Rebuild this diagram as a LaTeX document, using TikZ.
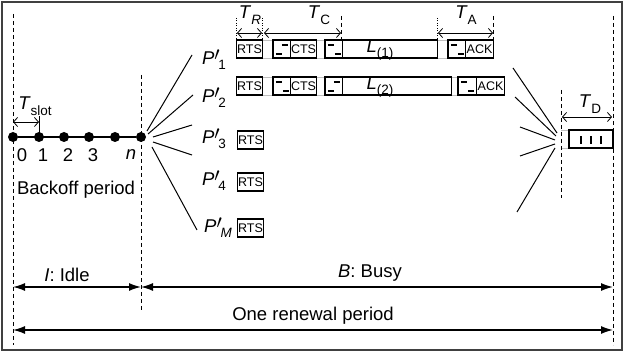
\documentclass[tikz,border=0pt]{standalone}
\usepackage{fontspec}
\setmainfont{Liberation Sans}
\usetikzlibrary{arrows.meta,positioning,calc}

\newcommand{\lowsub}[1]{\raisebox{-0.3em}{\fontsize{13.5}{14}\selectfont #1}}
\newcommand{\bigprime}{\raisebox{-6pt}{\scalebox{1.6}{$'$}}\kern-2pt}

\begin{document}
\begin{tikzpicture}[x=1pt, y=-1pt,
        lbl/.style ={font=\fontsize{18.5}{21}\selectfont, inner sep=1pt},
        pkt/.style ={draw, fill=white, line width=1.1pt, inner sep=0pt, minimum height=18pt,
                     font=\fontsize{12.5}{13}\selectfont},
        gapA/.style ={pkt, line width=1.6pt, minimum width=18pt,
                     path picture={\draw[line width=1.4pt]
                        ([shift={(3,-4)}]path picture bounding box.south west) -- ++(6,0)
                        ([shift={(9,5)}]path picture bounding box.north west) -- ++(6,0);}},
        gapB/.style ={pkt, line width=1.6pt, minimum width=18pt,
                     path picture={\draw[line width=1.4pt]
                        ([shift={(3,5)}]path picture bounding box.north west) -- ++(6,0)
                        ([shift={(10,-4)}]path picture bounding box.south west) -- ++(6,0);}},
        dot/.style ={circle, fill, inner sep=0pt, minimum size=10pt},
        vline/.style ={line width=0.8pt, dash pattern=on 4pt off 3pt},
        vdot/.style ={line width=0.8pt, dash pattern=on 1pt off 1.5pt},
        strip/.style ={draw=black!25, line width=0.8pt},
        dim/.style ={{Straight Barb[length=4pt,width=9pt]}-{Straight Barb[length=4pt,width=9pt]},
                     line width=0.8pt},
        span/.style ={{Latex[length=12pt,width=8pt]}-{Latex[length=12pt,width=8pt]},
                     line width=1.4pt},
        fan/.style ={line width=1pt}]

    \useasboundingbox (0,0) rectangle (624,352);
    \draw[line width=1.2pt, black!75] (2,2) rectangle (622,350);

    %--- Period borders ---
    \draw[vline] (13,14) -- (13,345);
    \draw[vline] (141,75) -- (141,310);
    \draw[vline] (613,16) -- (613,345);

    %--- Backoff slots ---
    \node[dot] (s0) at (13,137) {};
    \node[dot] (s1) at (39,137) {};
    \node[dot] (s2) at (64,137) {};
    \node[dot] (s3) at (89,137) {};
    \node[dot] (s4) at (115,137) {};
    \node[dot] (sn) at (141,137) {};
    \draw[line width=1.4pt] (s0) -- (sn);

    \node[lbl] (n0) at (22,155) {0};
    \node[lbl] (n1) at (43,155) {1};
    \node[lbl] (n2) at (68,155) {2};
    \node[lbl] (n3) at (93,155) {3};
    \node[lbl] (nn) at (131,155) {\textit{n}};
    \node[lbl] (backoff) at (76,190) {Backoff period};

    \coordinate (slotL) at (13,122);
    \coordinate (slotR) at (39,122);
    \draw[line width=0.8pt] (s1.center) -- (39,116);
    \draw[dim] (slotL) -- (slotR);
    \node[lbl] (tslot) at (35,106) {\textit{T}\lowsub{slot}};

    %--- Stations ---
    \node[lbl] (p1) at (214,60)  {\textit{P}\bigprime\lowsub{1}};
    \node[lbl] (p2) at (214,98)  {\textit{P}\bigprime\lowsub{2}};
    \node[lbl] (p3) at (214,139) {\textit{P}\bigprime\lowsub{3}};
    \node[lbl] (p4) at (214,181) {\textit{P}\bigprime\lowsub{4}};
    \node[lbl] (pM) at (218,228) {\textit{P}\bigprime\lowsub{\textit{M}}};

    \coordinate (f1) at (192,55);
    \coordinate (f2) at (193,95);
    \coordinate (f3) at (192,125);
    \coordinate (f4) at (192,155);
    \coordinate (f5) at (197,230);
    \draw[fan] (147,131) -- (f1);
    \draw[fan] (148,134) -- (f2);
    \draw[fan] (153,137) -- (f3);
    \draw[fan] (153,142) -- (f4);
    \draw[fan] (152,147) -- (f5);

    %--- Channel strips ---
    \draw[strip] (236,40) -- (494,40) (236,58) -- (494,58);
    \draw[strip] (236,77) -- (505,77) (236,95) -- (505,95);
    \draw[strip] (561,130) -- (568,130) (561,148) -- (568,148);

    %--- Row 1 ---
    \node[pkt, anchor=west, minimum width=26pt] (rts1) at (236,49) {RTS};
    \node[gapA, anchor=west] (g1a) at (272,49) {};
    \node[pkt, anchor=west, minimum width=26pt] (cts1) at (290,49) {CTS};
    \node[gapB, anchor=west] (g1b) at (324,49) {};
    \node[pkt, anchor=west, minimum width=95pt] (l1) at (342,49) {};
    \node[gapB, anchor=west] (g1c) at (447,49) {};
    \node[pkt, anchor=west, minimum width=28pt] (ack1) at (465,49) {ACK};
    \node[lbl] (lab1) at (380,50) {\textit{L}\lowsub{(1)}};

    %--- Row 2 ---
    \node[pkt, anchor=west, minimum width=26pt] (rts2) at (236,86) {RTS};
    \node[gapB, anchor=west] (g2a) at (272,86) {};
    \node[pkt, anchor=west, minimum width=26pt] (cts2) at (290,86) {CTS};
    \node[gapA, anchor=west] (g2b) at (324,86) {};
    \node[pkt, anchor=west, minimum width=109pt] (l2) at (342,86) {};
    \node[gapB, anchor=west, minimum width=19pt] (g2c) at (457,86) {};
    \node[pkt, anchor=west, minimum width=28pt] (ack2) at (476,86) {ACK};
    \node[lbl] (lab2) at (380,87) {\textit{L}\lowsub{(2)}};

    %--- Collided stations ---
    \node[pkt, anchor=west, minimum width=26pt] (rts3) at (237,140) {RTS};
    \node[pkt, anchor=west, minimum width=26pt] (rts4) at (237,182) {RTS};
    \node[pkt, anchor=west, minimum width=26pt] (rtsM) at (237,228) {RTS};

    %--- Time markers ---
    \draw[vdot] (236,18) -- (236,40);
    \draw[vdot] (262,18) -- (262,40);
    \draw[vline] (341,16) -- (341,40);
    \draw[vdot] (437,18) -- (437,40);
    \draw[vline] (493,16) -- (493,40);

    \coordinate (tr1) at (237,33);
    \coordinate (tr2) at (262,33);
    \coordinate (tc1) at (264,33);
    \coordinate (tc2) at (341,33);
    \coordinate (ta1) at (438,33);
    \coordinate (ta2) at (493,33);
    \draw[dim] (tr1) -- (tr2);
    \draw[dim] (tc1) -- (tc2);
    \draw[dim] (ta1) -- (ta2);
    \node[lbl] (trl) at (250,15) {\textit{T}\lowsub{\textit{R}}};
    \node[lbl] (tcl) at (319,15) {\textit{T}\lowsub{C}};
    \node[lbl] (tal) at (466,15) {\textit{T}\lowsub{A}};

    %--- Right fan and T_D ---
    \coordinate (r1) at (513,68);
    \coordinate (r2) at (515,97);
    \coordinate (r3) at (520,127);
    \coordinate (r4) at (520,156);
    \coordinate (r5) at (517,212);
    \draw[fan] (r1) -- (557,133);
    \draw[fan] (r2) -- (556,136);
    \draw[fan] (r3) -- (555,140);
    \draw[fan] (r4) -- (555,144);
    \draw[fan] (r5) -- (555,148);

    \draw[vline] (561,90) -- (561,198);
    \node[pkt, anchor=west, line width=2pt, minimum width=44pt,
          path picture={\foreach \t in {0.27,0.5,0.73}
             \draw[line width=1.6pt] ([shift={(0,-4)}]$(path picture bounding box.south west)!\t!(path picture bounding box.south east)$) -- ++(0,-8);}]
          (tdbox) at (568,139) {};
    \coordinate (td1) at (562,117);
    \coordinate (td2) at (612,117);
    \draw[dim] (td1) -- (td2);
    \node[lbl] (tdl) at (590,104) {\textit{T}\lowsub{D}};

    %--- Periods ---
    \coordinate (iL) at (13,287);
    \coordinate (iR) at (141,287);
    \coordinate (bR) at (613,287);
    \coordinate (oL) at (13,330);
    \coordinate (oR) at (613,330);
    \draw[span] (iL) -- (iR);
    \draw[span] (iR) -- (bR);
    \draw[span] (oL) -- (oR);
    \node[lbl] (idle) at (67,275) {\textit{I}: Idle};
    \node[lbl] (busy) at (370,273) {\textit{B}: Busy};
    \node[lbl] (renew) at (313,316) {One renewal period};

\end{tikzpicture}
\end{document}
